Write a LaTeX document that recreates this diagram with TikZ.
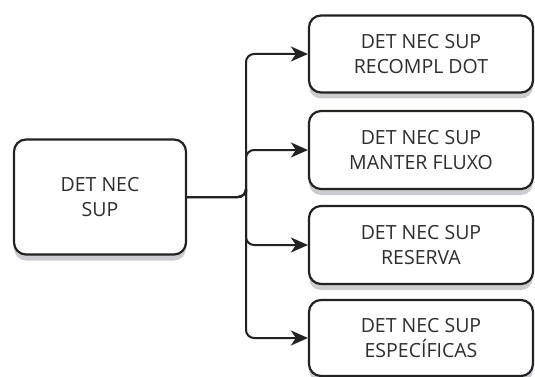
\documentclass[tikz,border=0pt]{standalone}
\usepackage{fontspec}
\setmainfont{Open Sans}
\usetikzlibrary{arrows.meta,shadows}
\definecolor{ink}{HTML}{222222}
\definecolor{txt}{HTML}{2E2E2E}
\definecolor{shade}{HTML}{A8A8B4}
\tikzset{
  box/.style={draw=ink, line width=2.2pt, rounded corners=12pt, fill=white,
    align=center, font=\fontsize{19.5}{25}\selectfont, text=txt, inner sep=0pt,
    drop shadow={shadow xshift=0pt, shadow yshift=-6pt, opacity=0.6, fill=shade}},
  link/.style={draw=ink, line width=2pt, rounded corners=8pt,
    -{Stealth[length=17pt,width=15pt,inset=5pt]}},
}
\begin{document}
\begin{tikzpicture}[x=1pt,y=-1pt]
  \useasboundingbox (0,0) rectangle (535,377);
  % source box
  \node[box, minimum width=172pt, minimum height=115pt] (src) at (100,197) {DET NEC\\SUP};
  % target boxes
  \node[box, minimum width=224pt, minimum height=77pt] (t1) at (421,54) {DET NEC SUP\\RECOMPL DOT};
  \node[box, minimum width=224pt, minimum height=78pt] (t2) at (421,150) {DET NEC SUP\\MANTER FLUXO};
  \node[box, minimum width=224pt, minimum height=78pt] (t3) at (421,245) {DET NEC SUP\\RESERVA};
  \node[box, minimum width=224pt, minimum height=76pt] (t4) at (421,338) {DET NEC SUP\\ESPECÍFICAS};
  % fan-out connectors sharing one trunk
  \coordinate (trunk) at (246,0);
  \foreach \t in {t1,t2,t3,t4}
    \draw[link] (src.east) -| (trunk |- src.east) |- (\t.west);
\end{tikzpicture}
\end{document}
